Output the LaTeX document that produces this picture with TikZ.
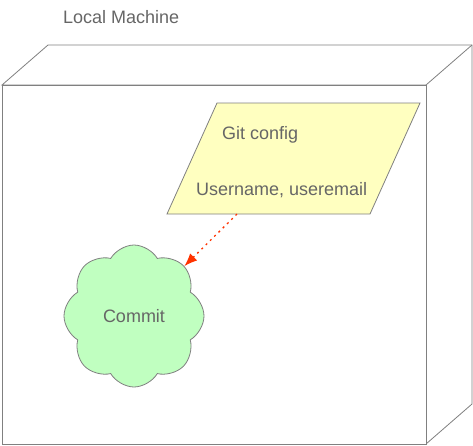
\documentclass[tikz,border=0pt]{standalone}
\usepackage{fontspec}
\setmainfont{Liberation Sans}
\usetikzlibrary{arrows.meta,shapes.symbols}

\definecolor{linegray}{HTML}{808080}
\definecolor{textgray}{HTML}{666666}
\definecolor{notefill}{HTML}{FFFFC0}
\definecolor{cloudfill}{HTML}{C0FFC0}
\definecolor{arrowred}{HTML}{FF3300}

\tikzset{
  edge/.style={draw=linegray, line width=0.8pt},
  label/.style={text=textgray, font=\fontsize{18}{21}\selectfont, inner sep=0pt, anchor=west},
}

\begin{document}
\begin{tikzpicture}[x=1pt, y=-1pt]
\useasboundingbox (0,0) rectangle (473,445);

% Titel
\node[label] (title) at (63,17) {Local Machine};

% Kasten (Rechner)
\draw[edge, fill=white] (2,85) -- (48,45) -- (472,45) -- (472,404) -- (426,444) -- (426,85) -- cycle;
\draw[edge] (426,85) -- (472,45);
\draw[edge, fill=white] (2,85) rectangle (426,444);

% Git config
\draw[edge, fill=notefill] (217,103) -- (420,103) -- (370,214) -- (167,214) -- cycle;
\node[label] (gitcfg) at (222,135) {Git config};
\node[label] (user) at (196,190) {Username, useremail};
\coordinate (cfgout) at (237,214);

% Commit
\node[cloud, cloud puffs=8, cloud puff arc=120, aspect=1, minimum width=140pt, minimum height=142pt,
      draw=linegray, line width=0.8pt, fill=cloudfill, text=textgray,
      font=\fontsize{18}{21}\selectfont] (commit) at (134,316) {Commit};

% Pfeil
\draw[-{Latex[length=13pt,width=10pt]}, arrowred, line width=1.3pt, dash pattern=on 2pt off 4pt] (cfgout) -- (commit);

\end{tikzpicture}
\end{document}
